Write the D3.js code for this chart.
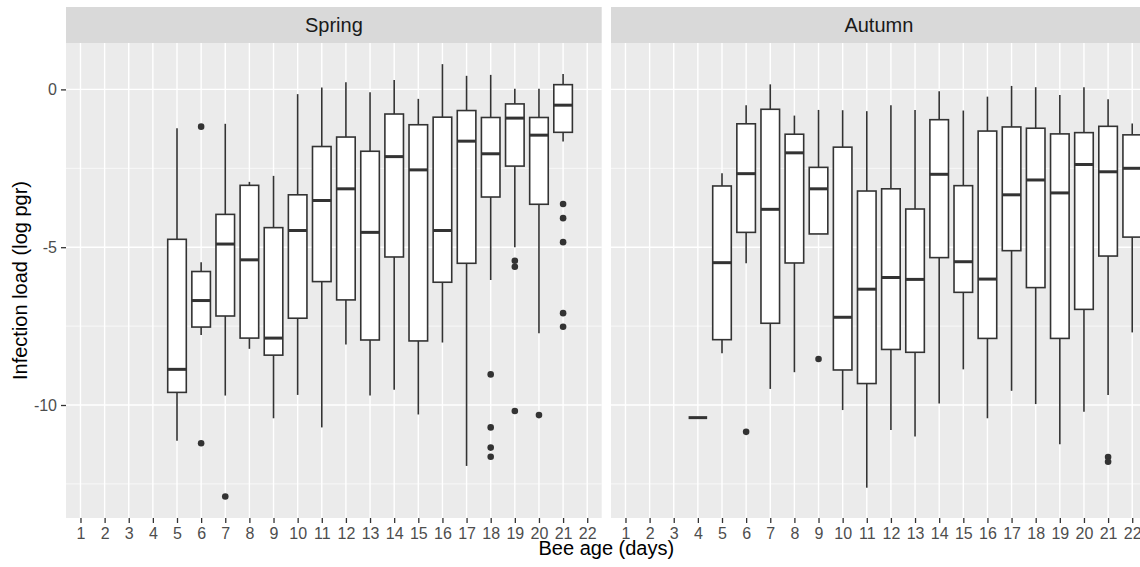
<!DOCTYPE html>
<html lang="en">
<head>
<meta charset="utf-8">
<title>Infection load by bee age</title>
<script src="https://cdn.jsdelivr.net/npm/d3@7"></script>
<style>
  body { margin: 0; background: #ffffff; }
  svg { display: block; font-family: "Liberation Sans", Arial, sans-serif; }
</style>
</head>
<body>
<script>
// bee ages on the x axis (tick labels)
var ages = d3.range(1, 23);
var seasons = ["Spring", "Autumn"];
var yTicks = [0, -5, -10];

// Spring boxes: age, lower whisker, q1, median, q3, upper whisker
var springAge = [5, 6, 7, 8, 9, 10, 11, 12, 13, 14, 15, 16, 17, 18, 19, 20, 21];
var springLow = [-11.13, -7.78, -9.7, -8.22, -10.42, -9.68, -10.71, -8.08, -9.7, -9.52, -10.3, -8.02, -11.93, -6.04, -5.0, -7.73, -1.65];
var springQ1 = [-9.6, -7.53, -7.18, -7.88, -8.42, -7.25, -6.09, -6.67, -7.94, -5.31, -7.97, -6.11, -5.51, -3.41, -2.43, -3.64, -1.36];
var springMed = [-8.87, -6.69, -4.9, -5.4, -7.88, -4.47, -3.52, -3.15, -4.53, -2.13, -2.55, -4.47, -1.64, -2.04, -0.91, -1.45, -0.5];
var springQ3 = [-4.75, -5.77, -3.96, -3.04, -4.38, -3.34, -1.81, -1.51, -1.96, -0.78, -1.12, -0.88, -0.67, -0.89, -0.46, -0.89, 0.15];
var springHigh = [-1.23, -5.48, -1.09, -2.93, -2.74, -0.15, 0.06, 0.23, -0.09, 0.3, -0.3, 0.8, 0.43, 0.46, 0.02, 0.02, 0.49];
// Spring outliers: [age, value]
var springOut = [[6, -1.18], [6, -11.21], [7, -12.9], [18, -9.03], [18, -10.71], [18, -11.35], [18, -11.64],
  [19, -5.43], [19, -5.62], [19, -10.19], [20, -10.32], [21, -3.63], [21, -4.08], [21, -4.84], [21, -7.09], [21, -7.52]];

// Autumn boxes
var autumnAge = [4, 5, 6, 7, 8, 9, 10, 11, 12, 13, 14, 15, 16, 17, 18, 19, 20, 21, 22];
var autumnLow = [-10.4, -8.36, -5.51, -9.49, -8.96, -4.58, -10.16, -12.62, -10.79, -11.0, -9.95, -8.87, -10.42, -9.55, -9.97, -11.24, -10.21, -9.68, -7.7];
var autumnQ1 = [-10.4, -7.93, -4.53, -7.41, -5.5, -4.58, -8.89, -9.32, -8.24, -8.33, -5.33, -6.43, -7.89, -5.11, -6.28, -7.89, -6.97, -5.28, -4.68];
var autumnMed = [-10.4, -5.49, -2.67, -3.8, -2.01, -3.15, -7.22, -6.33, -5.96, -6.02, -2.69, -5.46, -6.01, -3.34, -2.87, -3.28, -2.38, -2.61, -2.5];
var autumnQ3 = [-10.4, -3.06, -1.09, -0.63, -1.42, -2.47, -1.83, -3.22, -3.15, -3.79, -0.96, -3.05, -1.32, -1.19, -1.23, -1.41, -1.37, -1.17, -1.44];
var autumnHigh = [-10.4, -2.66, -0.5, 0.16, -0.83, -0.65, -0.66, -0.69, -0.5, -0.65, -0.06, -0.67, -0.23, 0.11, 0.07, -0.18, 0.07, -0.31, -1.08];
var autumnOut = [[6, -10.85], [9, -8.54], [21, -11.65], [21, -11.8]];

function makeBoxes(age, lo, q1, med, q3, hi) {
  return age.map(function(a, i) {
    return {age: a, lo: lo[i], q1: q1[i], med: med[i], q3: q3[i], hi: hi[i]};
  });
}

var panels = [
  {name: seasons[0], boxes: makeBoxes(springAge, springLow, springQ1, springMed, springQ3, springHigh), out: springOut},
  {name: seasons[1], boxes: makeBoxes(autumnAge, autumnLow, autumnQ1, autumnMed, autumnQ3, autumnHigh), out: autumnOut}
];

var width = 1140, height = 567;
var stripTop = 7, panelTop = 43, panelBottom = 518;
var panelW = 535.7, panelLeft = [66, 611];
var fontFam = "Liberation Sans, Arial, sans-serif";

var svg = d3.select("body").append("svg")
  .attr("width", width)
  .attr("height", height);

var y = d3.scaleLinear()
  .domain([-13.58, 1.47])
  .range([panelBottom, panelTop]);

var minorY = [-2.5, -7.5, -12.5];

panels.forEach(function(p, k) {
  var x0 = panelLeft[k];
  var x = d3.scalePoint()
    .domain(ages)
    .range([x0, x0 + panelW])
    .padding(0.6);
  var bw = x.step() * 0.77;

  var g = svg.append("g");

  // panel background
  g.append("rect")
    .attr("x", x0).attr("y", panelTop)
    .attr("width", panelW).attr("height", panelBottom - panelTop)
    .attr("fill", "#ebebeb");

  // strip
  g.append("rect")
    .attr("x", x0).attr("y", stripTop)
    .attr("width", panelW).attr("height", panelTop - stripTop)
    .attr("fill", "#d9d9d9");
  g.append("text")
    .attr("x", x0 + panelW / 2)
    .attr("y", 32)
    .attr("text-anchor", "middle")
    .attr("font-size", 20)
    .attr("fill", "#1a1a1a")
    .text(p.name);

  // grid
  g.selectAll(".minor")
    .data(minorY).enter()
    .append("line")
    .attr("x1", x0).attr("x2", x0 + panelW)
    .attr("y1", function(d) { return y(d); })
    .attr("y2", function(d) { return y(d); })
    .attr("stroke", "#ffffff").attr("stroke-width", 0.7);
  g.selectAll(".majorY")
    .data(yTicks).enter()
    .append("line")
    .attr("x1", x0).attr("x2", x0 + panelW)
    .attr("y1", function(d) { return y(d); })
    .attr("y2", function(d) { return y(d); })
    .attr("stroke", "#ffffff").attr("stroke-width", 1.4);
  g.selectAll(".majorX")
    .data(ages).enter()
    .append("line")
    .attr("x1", function(d) { return x(d); })
    .attr("x2", function(d) { return x(d); })
    .attr("y1", panelTop).attr("y2", panelBottom)
    .attr("stroke", "#ffffff").attr("stroke-width", 1.4);

  // x axis
  var xAxis = d3.axisBottom(x).tickSize(5).tickPadding(4);
  var ax = g.append("g")
    .attr("transform", "translate(0," + panelBottom + ")")
    .call(xAxis)
    .attr("font-size", 16)
    .attr("font-family", fontFam);
  ax.select(".domain").remove();
  ax.selectAll(".tick line").attr("stroke", "#333333").attr("stroke-width", 1.3);
  ax.selectAll(".tick text")
    .attr("fill", "#4d4d4d")
    .attr("dy", null)
    .attr("y", 21);

  // whiskers, boxes, medians
  var box = g.selectAll(".box")
    .data(p.boxes).enter()
    .append("g");

  box.append("line")
    .attr("x1", function(d) { return x(d.age); })
    .attr("x2", function(d) { return x(d.age); })
    .attr("y1", function(d) { return y(d.hi); })
    .attr("y2", function(d) { return y(d.q3); })
    .attr("stroke", "#333333").attr("stroke-width", 1.6);
  box.append("line")
    .attr("x1", function(d) { return x(d.age); })
    .attr("x2", function(d) { return x(d.age); })
    .attr("y1", function(d) { return y(d.q1); })
    .attr("y2", function(d) { return y(d.lo); })
    .attr("stroke", "#333333").attr("stroke-width", 1.6);
  box.append("rect")
    .attr("x", function(d) { return x(d.age) - bw / 2; })
    .attr("width", bw)
    .attr("y", function(d) { return y(d.q3); })
    .attr("height", function(d) { return y(d.q1) - y(d.q3); })
    .attr("fill", "#ffffff")
    .attr("stroke", "#333333").attr("stroke-width", 1.6);
  box.append("line")
    .attr("x1", function(d) { return x(d.age) - bw / 2; })
    .attr("x2", function(d) { return x(d.age) + bw / 2; })
    .attr("y1", function(d) { return y(d.med); })
    .attr("y2", function(d) { return y(d.med); })
    .attr("stroke", "#333333").attr("stroke-width", 3);

  g.selectAll(".out")
    .data(p.out).enter()
    .append("circle")
    .attr("cx", function(d) { return x(d[0]); })
    .attr("cy", function(d) { return y(d[1]); })
    .attr("r", 3.3)
    .attr("fill", "#333333");
});

// y axis
var yAxis = d3.axisLeft(y).tickValues(yTicks).tickSize(5).tickPadding(4)
  .tickFormat(function(d) { return String(d); });
var ay = svg.append("g")
  .attr("transform", "translate(" + panelLeft[0] + ",0)")
  .call(yAxis)
  .attr("font-size", 16)
  .attr("font-family", fontFam);
ay.select(".domain").remove();
ay.selectAll(".tick line").attr("stroke", "#333333").attr("stroke-width", 1.3);
ay.selectAll(".tick text").attr("fill", "#4d4d4d");

// axis titles
svg.append("text")
  .attr("x", (panelLeft[0] + panelLeft[1] + panelW) / 2)
  .attr("y", 555)
  .attr("text-anchor", "middle")
  .attr("font-size", 20)
  .attr("fill", "#000000")
  .text("Bee age (days)");

svg.append("text")
  .attr("transform", "translate(27," + (panelTop + panelBottom) / 2 + ") rotate(-90)")
  .attr("text-anchor", "middle")
  .attr("font-size", 20)
  .attr("fill", "#000000")
  .text("Infection load (log pgr)");
</script>
</body>
</html>
